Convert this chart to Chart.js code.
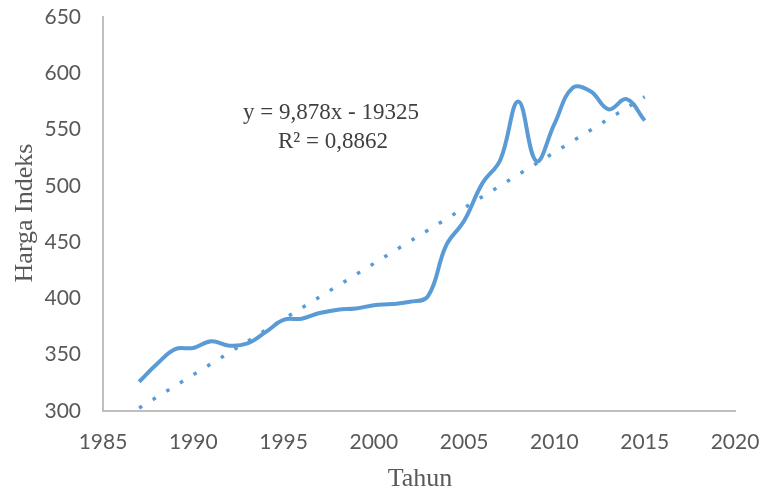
<!DOCTYPE html>
<html>
<head>
<meta charset="utf-8">
<script src="https://cdn.jsdelivr.net/npm/chart.js@4.4.1/dist/chart.umd.min.js"></script>
<style>
  html, body { margin: 0; padding: 0; background: #ffffff; }
  #wrap { width: 765px; height: 492px; }
</style>
</head>
<body>
<div id="wrap"><canvas id="hargaChart" width="765" height="492"></canvas></div>
<script>
// Data
const tahun = [1987, 1988, 1989, 1990, 1991, 1992, 1993, 1994, 1995, 1996,
               1997, 1998, 1999, 2000, 2001, 2002, 2003, 2004, 2005, 2006,
               2007, 2008, 2009, 2010, 2011, 2012, 2013, 2014, 2015];
const hargaIndeks = [326, 342, 355, 356, 362, 358, 360, 370, 381, 382,
                     387, 390, 391, 394, 395, 397, 402, 447, 469, 502,
                     523, 575, 522, 555, 587, 584, 568, 577, 558];

// Linear trendline as printed on the chart
const trendSlope = 9.878;
const trendIntercept = -19325;
const trendLabel = 'y = 9,878x - 19325';
const r2Label = 'R\u00b2 = 0,8862';

// Axis ticks
const xTicks = [1985, 1990, 1995, 2000, 2005, 2010, 2015, 2020];
const yTicks = [300, 350, 400, 450, 500, 550, 600, 650];

const lineColor = '#5B9BD5';
const axisTextColor = '#595959';

const seriesPoints = tahun.map((t, i) => ({ x: t, y: hargaIndeks[i] }));
const trendYears = [tahun[0], tahun[tahun.length - 1]];
const trendPoints = trendYears.map(t => ({ x: t, y: trendSlope * t + trendIntercept }));

// Drop the label overflow padding so layout.padding decides the plot box
function noScalePadding(scale) {
    scale.paddingTop = 0;
    scale.paddingBottom = 0;
    scale.paddingLeft = 0;
    scale.paddingRight = 0;
}

// Axis titles and the trendline equation
const labelPlugin = {
    id: 'chartLabels',
    afterDraw(chart) {
        const ctx = chart.ctx;
        ctx.save();
        ctx.fillStyle = axisTextColor;
        ctx.textAlign = 'center';
        ctx.textBaseline = 'middle';
        ctx.font = '26px "Liberation Serif"';
        ctx.fillText('Tahun', 420, 479);

        ctx.save();
        ctx.translate(25, 213);
        ctx.rotate(-Math.PI / 2);
        ctx.fillText('Harga Indeks', 0, 0);
        ctx.restore();

        ctx.fillStyle = '#404040';
        ctx.font = '23px "Liberation Serif"';
        ctx.fillText(trendLabel, 331, 113);
        ctx.fillText(r2Label, 333, 142);
        ctx.restore();
    }
};

const chart = new Chart(document.getElementById('hargaChart'), {
    type: 'scatter',
    data: {
        datasets: [
            {
                label: 'Harga Indeks',
                data: seriesPoints,
                showLine: true,
                borderColor: lineColor,
                borderWidth: 4,
                tension: 0.4,
                pointRadius: 0,
                order: 1
            },
            {
                label: 'Trend',
                data: trendPoints,
                showLine: true,
                borderColor: lineColor,
                borderWidth: 3.5,
                borderDash: [3.5, 12.5],
                borderCapStyle: 'butt',
                pointRadius: 0,
                order: 2
            }
        ]
    },
    options: {
        responsive: false,
        animation: false,
        layout: {
            padding: { top: 17, right: 30, left: 0, bottom: 0 }
        },
        plugins: {
            legend: { display: false },
            tooltip: { enabled: false }
        },
        scales: {
            x: {
                type: 'linear',
                min: xTicks[0],
                max: xTicks[xTicks.length - 1],
                afterBuildTicks: scale => {
                    scale.ticks = xTicks.map(v => ({ value: v }));
                },
                afterFit: scale => { scale.height = 81; noScalePadding(scale); },
                grid: { display: false, drawTicks: false },
                border: { display: true, color: '#BFBFBF', width: 2 },
                ticks: {
                    padding: 19,
                    color: axisTextColor,
                    font: { family: 'Lato', size: 21 },
                    maxRotation: 0,
                    callback: v => String(v)
                }
            },
            y: {
                type: 'linear',
                min: yTicks[0],
                max: yTicks[yTicks.length - 1],
                afterBuildTicks: scale => {
                    scale.ticks = yTicks.map(v => ({ value: v }));
                },
                afterFit: scale => { scale.width = 103; noScalePadding(scale); },
                grid: { display: false, drawTicks: false },
                border: { display: true, color: '#BFBFBF', width: 2 },
                ticks: {
                    padding: 22,
                    color: axisTextColor,
                    font: { family: 'Lato', size: 21 },
                    callback: v => String(v)
                }
            }
        }
    },
    plugins: [labelPlugin]
});
</script>
</body>
</html>
